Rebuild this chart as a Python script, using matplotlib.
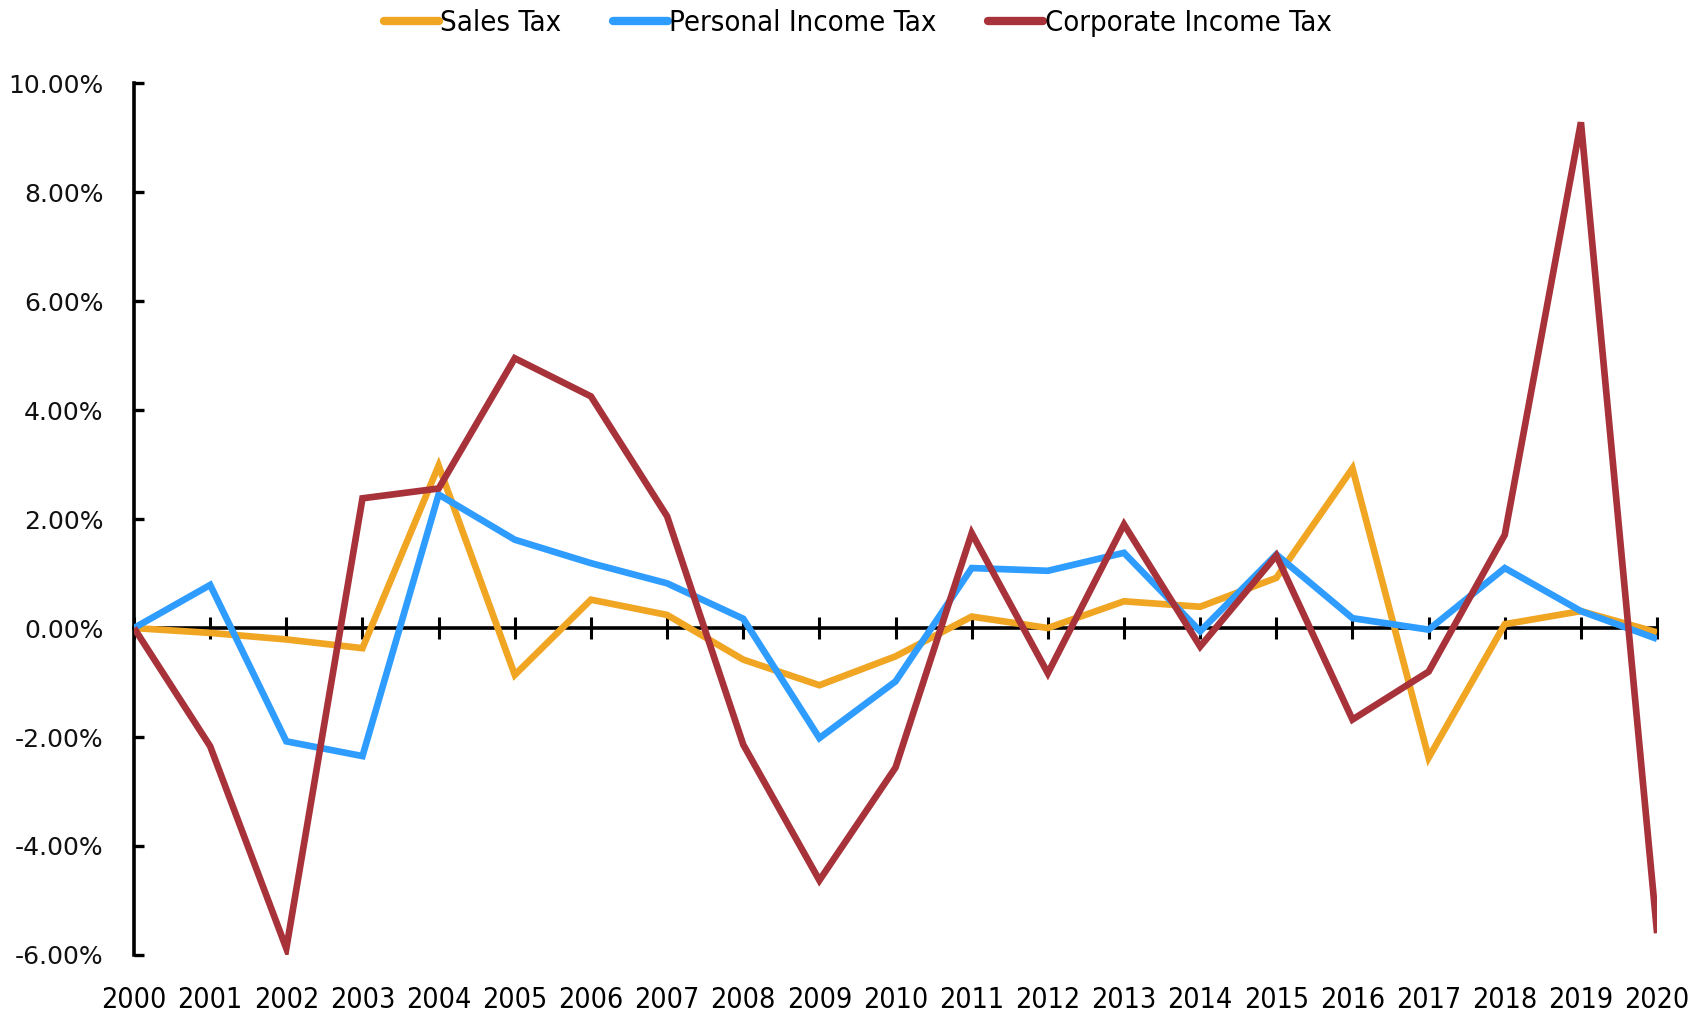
import numpy as np
import matplotlib
matplotlib.use("Agg")
import matplotlib.pyplot as plt
from matplotlib.ticker import FuncFormatter

years = list(range(2000, 2021))

# yearly change, in percent
sales_tax = [0.0, -0.09, -0.21, -0.37, 2.98, -0.86, 0.52, 0.24, -0.58, -1.05, -0.52,
             0.21, 0.0, 0.49, 0.39, 0.92, 2.93, -2.38, 0.07, 0.31, -0.08]
personal_income_tax = [0.0, 0.79, -2.08, -2.35, 2.45, 1.62, 1.19, 0.82, 0.17, -2.02, -0.98,
                       1.10, 1.05, 1.38, -0.06, 1.35, 0.18, -0.03, 1.10, 0.31, -0.20]
corporate_income_tax = [0.0, -2.17, -5.88, 2.38, 2.56, 4.95, 4.25, 2.05, -2.14, -4.63, -2.56,
                        1.74, -0.83, 1.90, -0.34, 1.33, -1.68, -0.80, 1.71, 9.28, -5.60]

series_names = ["Sales Tax", "Personal Income Tax", "Corporate Income Tax"]
colors = ["#F0A523", "#2F9DFF", "#A8323A"]

fig = plt.figure(figsize=(17.05, 10.14), dpi=100)
ax = fig.add_axes([0.0786, 0.0582, 0.8933, 0.8599])

for vals, name, c in zip([sales_tax, personal_income_tax, corporate_income_tax],
                         series_names, colors):
    ax.plot(years, vals, color=c, lw=4.8, label=name,
            solid_joinstyle="miter", solid_capstyle="butt", zorder=3)

ax.set_xlim(2000, 2020)
ax.set_ylim(-6, 10)
ax.set_yticks(np.arange(-6, 10.1, 2))
ax.yaxis.set_major_formatter(FuncFormatter(lambda v, p: f"{v:.2f}%"))

for s in ["top", "right", "bottom"]:
    ax.spines[s].set_visible(False)
ax.spines["left"].set_linewidth(2.6)
ax.tick_params(axis="y", direction="in", length=7, width=2.4, pad=22,
               labelsize=18, labelcolor="#111111")

# year labels at the bottom, no marks
ax.set_xticks(years)
ax.tick_params(axis="x", length=0, pad=22)
for lab in ax.get_xticklabels():
    lab.set_fontfamily("DejaVu Sans")
    lab.set_fontstretch("condensed")
    lab.set_fontsize(20.5)

# zero line with crossing tick marks
zero_ax = ax.secondary_xaxis(6 / 16)
zero_ax.set_xticks(years)
zero_ax.tick_params(direction="inout", length=16, width=2.2, labelbottom=False,
                    labeltop=False)
zero_ax.spines["bottom"].set_linewidth(2.6)
zero_ax.spines["top"].set_linewidth(2.6)

leg = fig.legend(loc="center", bbox_to_anchor=(0.503, 0.977), ncol=3, frameon=False,
                 handlelength=1.9, handletextpad=0.05, columnspacing=1.75,
                 prop={"family": "DejaVu Sans", "stretch": "condensed", "size": 21})
for h in leg.get_lines():
    h.set_linewidth(6)
    h.set_solid_capstyle("round")

fig.savefig("out.png", dpi=100)
